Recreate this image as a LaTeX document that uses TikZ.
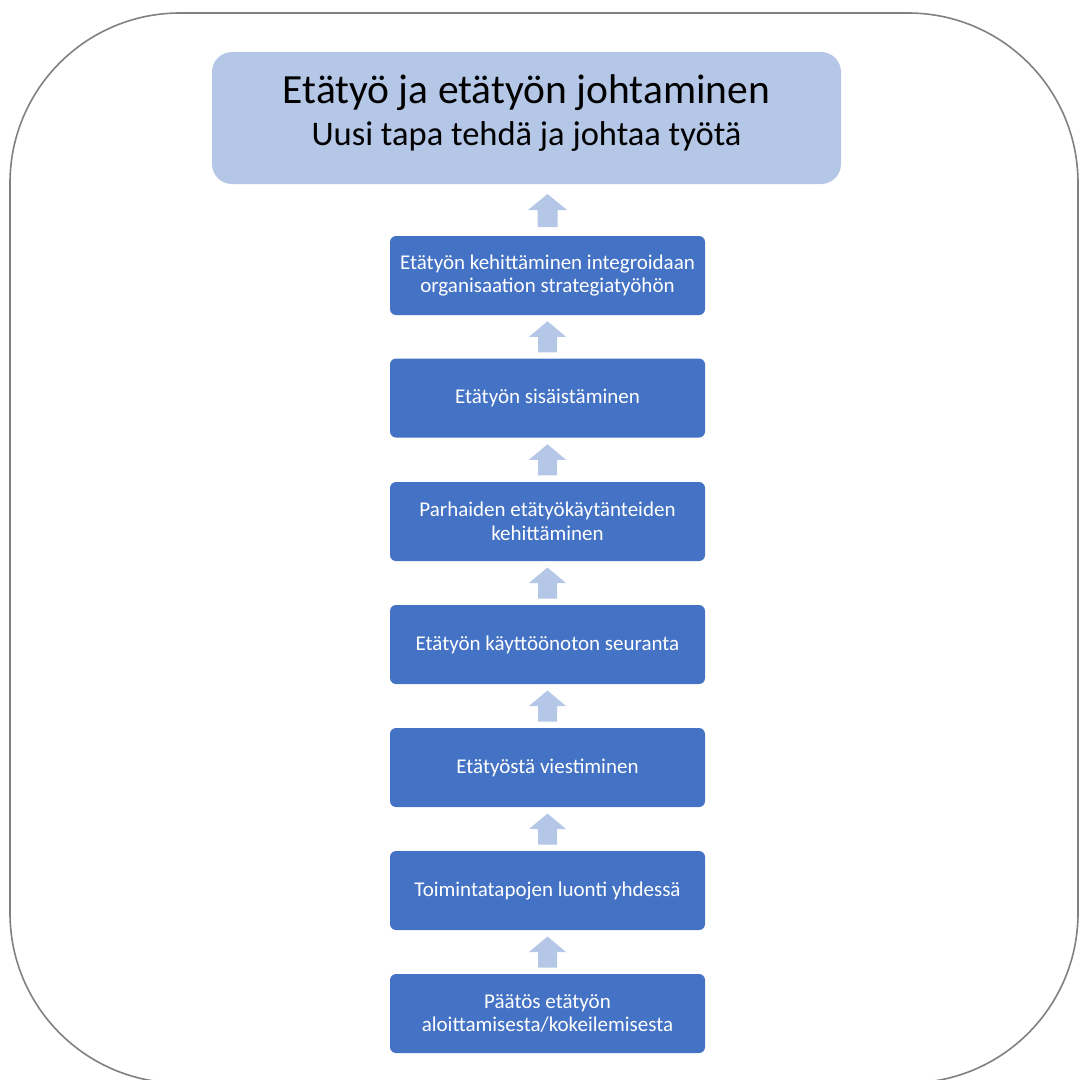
\documentclass[tikz,border=0pt]{standalone}
\usepackage{fontspec}
\setmainfont{Carlito}
\usetikzlibrary{calc}
\definecolor{frame}{HTML}{808080}
\definecolor{titlefill}{HTML}{B4C7E7}
\definecolor{boxfill}{HTML}{4472C4}
\definecolor{arrowfill}{HTML}{B4C7E7}
\tikzset{
  stepbox/.style={rectangle, rounded corners=6pt, fill=boxfill, text=white,
    minimum width=315pt, minimum height=79pt, inner sep=0pt, align=center,
    font=\fontsize{21}{23.5}\selectfont},
  titlebox/.style={rectangle, rounded corners=20pt, fill=titlefill, text=black,
    minimum width=629pt, minimum height=132pt, inner sep=0pt, align=center},
  uparrow/.style={fill=arrowfill}
}
\begin{document}
\begin{tikzpicture}[x=1pt,y=-1pt]
\useasboundingbox (0,0) rectangle (1080,1080);
\draw[frame, line width=1.6pt, rounded corners=170pt] (10,13) rectangle (1078,1083);
\node[titlebox] (t) at (526.5,118) {};
\node[font=\fontsize{41.5}{44}\selectfont, inner sep=0pt] (t1) at (526.5,93) {Etätyö ja etätyön johtaminen};
\node[font=\fontsize{34.5}{36}\selectfont, inner sep=0pt] (t2) at (526.5,136) {Uusi tapa tehdä ja johtaa työtä};
\node[stepbox] (b1) at (547.5,275.5) {Etätyön kehittäminen integroidaan\\organisaation strategiatyöhön};
\node[stepbox] (b2) at (547.5,398) {Etätyön sisäistäminen};
\node[stepbox] (b3) at (547.5,521.5) {Parhaiden etätyökäytänteiden\\kehittäminen};
\node[stepbox] (b4) at (547.5,644.5) {Etätyön käyttöönoton seuranta};
\node[stepbox] (b5) at (547.5,767.5) {Etätyöstä viestiminen};
\node[stepbox] (b6) at (547.5,890.5) {Toimintatapojen luonti yhdessä};
\node[stepbox] (b7) at (547.5,1013.5) {Päätös etätyön\\aloittamisesta/kokeilemisesta};
\foreach \lo/\hi in {b7/b6,b6/b5,b5/b4,b4/b3,b3/b2,b2/b1} {
  \coordinate (m) at ($(\lo.north)!0.5!(\hi.south)$);
  \fill[uparrow] ($(m)+(-9.5,15.5)$) -- ($(m)+(9.5,15.5)$) -- ($(m)+(9.5,0)$) -- ($(m)+(18.5,0)$)
    -- ($(m)+(0,-15.5)$) -- ($(m)+(-18.5,0)$) -- ($(m)+(-9.5,0)$) -- cycle;
}
\coordinate (m) at ($(b1.north)!0.5!(t.south -| b1.north)$);
\fill[uparrow] ($(m)+(-10,17)$) -- ($(m)+(10,17)$) -- ($(m)+(10,0)$) -- ($(m)+(19.5,0)$)
    -- ($(m)+(0,-16)$) -- ($(m)+(-19.5,0)$) -- ($(m)+(-10,0)$) -- cycle;
\end{tikzpicture}
\end{document}
